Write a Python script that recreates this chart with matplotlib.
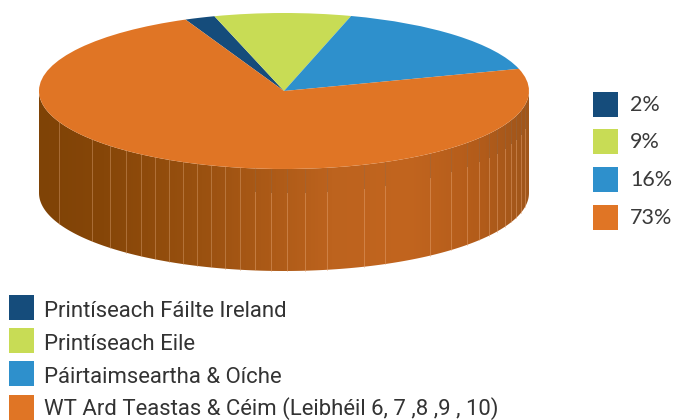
import numpy as np
import matplotlib
matplotlib.use('Agg')
import matplotlib.pyplot as plt
from matplotlib.colors import LinearSegmentedColormap
from matplotlib.patches import Wedge, Rectangle, Polygon
from matplotlib.transforms import Affine2D

# values
shares = [2, 9, 16, 73]
share_labels = ['2%', '9%', '16%', '73%']
categories = ['Printíseach Fáilte Ireland', 'Printíseach Eile',
              'Páirtaimseartha & Oíche', 'WT Ard Teastas & Céim (Leibhéil 6, 7 ,8 ,9 , 10)']
colors = ['#154c7b', '#c8dc55', '#2e90cc', '#e07525']

# pie geometry, in pixels
cx, cy = 284, 91
rx, ry = 245, 78
depth = 102
start_angle = 113.7

# seams of the side wall
seams = [59, 92, 110, 126, 141, 155, 169, 183, 197, 211, 225, 240, 255, 271, 287, 305,
         327, 364, 385, 430, 451, 467, 479, 489, 497, 505, 511, 516, 521, 525]

side_cmap = LinearSegmentedColormap.from_list('side', [
    (0.0, '#7f4306'), (0.13, '#864608'), (0.33, '#9a5110'), (0.47, '#ac5a17'),
    (0.6, '#bd631e'), (0.75, '#c2651f'), (0.9, '#b35c1a'), (1.0, '#a0561a')])

fig = plt.figure(figsize=(6.73, 4.2), dpi=100)
ax = fig.add_axes([0, 0, 1, 1])
ax.set_xlim(0, 673)
ax.set_ylim(420, 0)
ax.axis('off')

# side wall, a horizontal gradient clipped to the lower half of the ellipse
t = np.linspace(0, np.pi, 200)
xs = cx + rx * np.cos(t)
ys = cy + ry * np.sin(t)
outline = np.r_[np.c_[xs, ys], np.c_[xs[::-1], ys[::-1] + depth]]
side = Polygon(outline, closed=True, fc='none', ec='none')
ax.add_patch(side)
grad = ax.imshow(np.linspace(0, 1, 490)[None, :], cmap=side_cmap, aspect='auto',
                 extent=(cx - rx, cx + rx, cy + ry + depth, cy), zorder=1)
grad.set_clip_path(side)
ax.set_xlim(0, 673)
ax.set_ylim(420, 0)

for x in seams:
    top = cy + ry * np.sqrt(1 - ((x - cx) / rx) ** 2)
    if x < 250:
        ax.plot([x, x], [top, top + depth], color='#d9a070', lw=0.7, alpha=0.45, zorder=2)
    else:
        # right side: dark upper part, light lower part
        ax.plot([x, x], [top, top + 24], color='#8a6a50', lw=0.7, alpha=0.35, zorder=2)
        ax.plot([x, x], [top + 24, top + depth], color='#e8a878', lw=0.7, alpha=0.45, zorder=2)

# top of the pie: unit circle wedges squashed into the ellipse
squash = Affine2D().scale(rx, ry).scale(1, -1).translate(cx, cy) + ax.transData
angle = start_angle
for value, color in zip(shares, colors):
    sweep = value / sum(shares) * 360
    ax.add_patch(Wedge((0, 0), 1, angle - sweep, angle, fc=color, ec='none',
                       transform=squash, zorder=3))
    angle -= sweep

# percent legend, right
for y, label, color in zip([92, 129, 167, 205], share_labels, colors):
    ax.add_patch(Rectangle((593, y), 25, 25, fc=color, ec='none'))
    ax.text(630, y + 19, label, family='Lato', fontsize=15.5,
            color='#3a3a3a', va='baseline', ha='left')

# category legend, bottom; last baseline sits higher so the brackets stay inside
baselines = [317, 350, 383, 415]
for y, base, label, color in zip([295, 328, 361, 395], baselines, categories, colors):
    ax.add_patch(Rectangle((9, y), 25, 25, fc=color, ec='none'))
    ax.text(44, base, label, family='Roboto', fontsize=15.9,
            color='#333333', va='baseline', ha='left')

fig.savefig('out.png', dpi=100)
